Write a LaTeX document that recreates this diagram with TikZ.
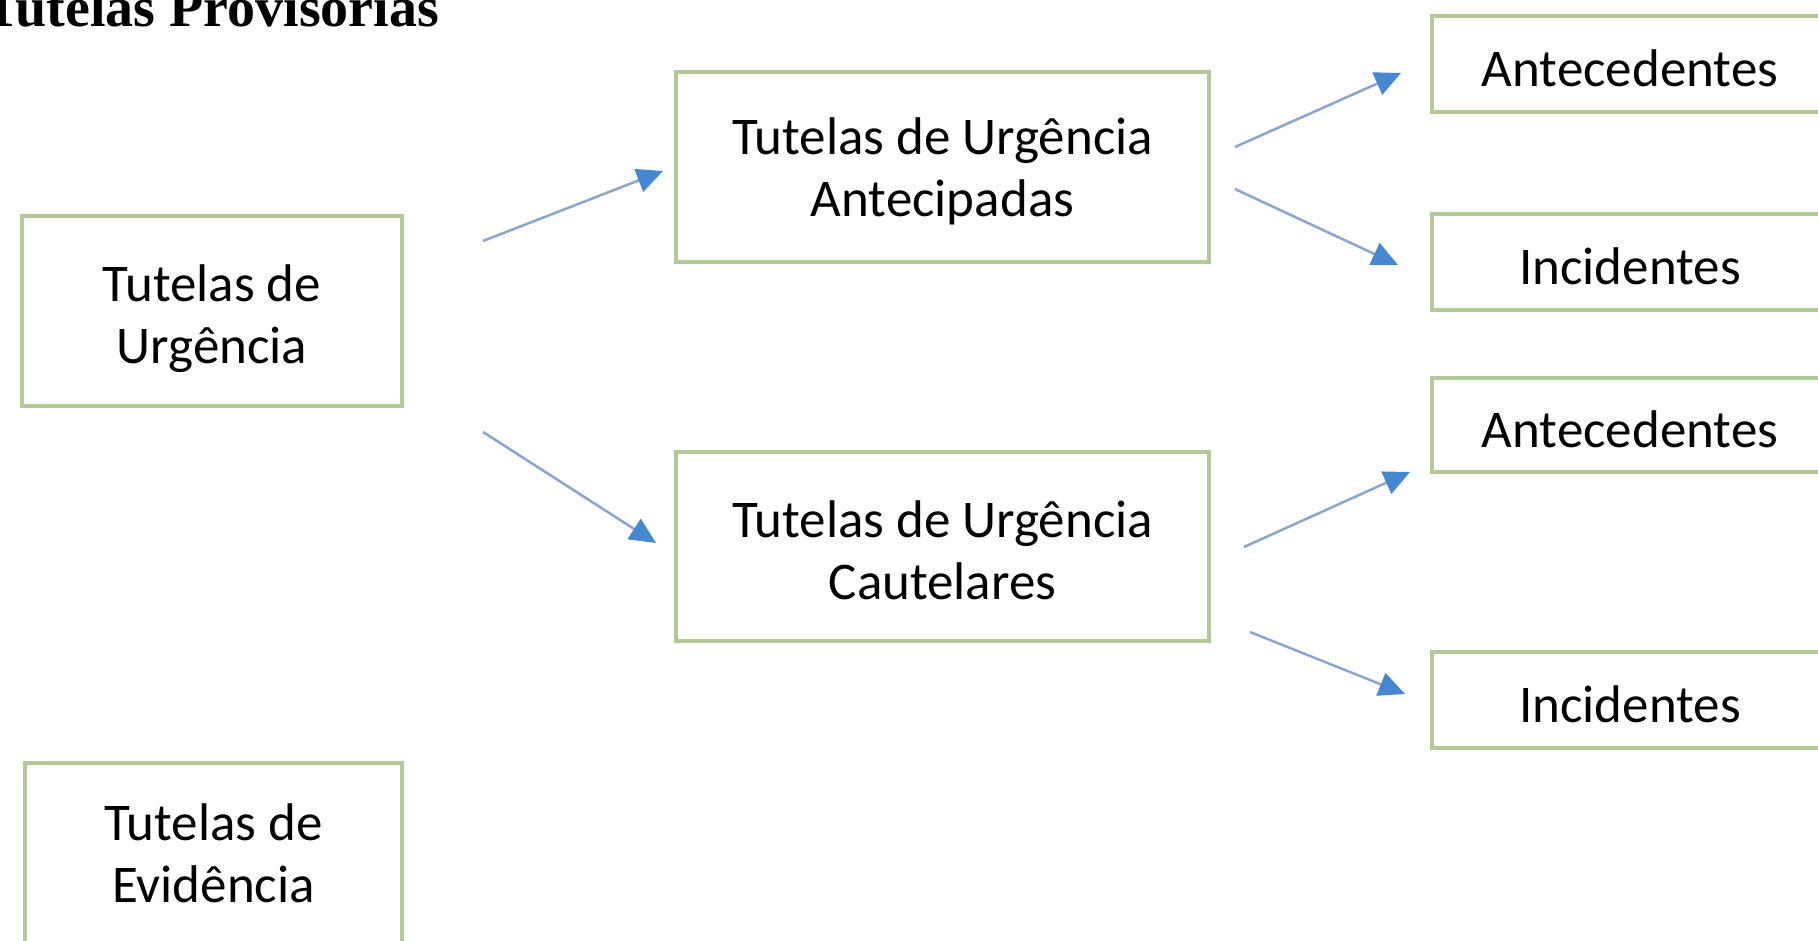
\documentclass[tikz,border=0pt]{standalone}
\usepackage{fontspec}
\setmainfont{Carlito}
\newfontfamily\titlefont{Liberation Serif}
\usetikzlibrary{arrows.meta}
\definecolor{boxgreen}{RGB}{181,200,152}
\definecolor{arrline}{RGB}{140,165,205}
\definecolor{arrhead}{RGB}{70,135,210}
\begin{document}
\begin{tikzpicture}[x=1pt,y=-1pt,
  box/.style={draw=boxgreen, line width=4pt, fill=white, inner sep=0pt},
  txt/.style={align=center, font=\fontsize{53}{62}\selectfont, inner sep=0pt},
  arr/.style={draw=arrline, line width=2.5pt,
    -{Triangle[length=26pt,width=24pt,fill=arrhead,color=arrhead]}}
]
\useasboundingbox (0,0) rectangle (1818,941);
\clip (0,0) rectangle (1818,941);
\fill[white] (0,0) rectangle (1818,941);

\node[anchor=base west, inner sep=0pt,
  font=\titlefont\bfseries\fontsize{56}{56}\selectfont] (title) at (-17,27) {Tutelas Provisórias};

\node[box, minimum width=380pt, minimum height=189pt] (tu) at (212,311) {};
\node[txt] (tut) at ([yshift=-8pt]tu.center) {Tutelas de\\Urgência};
\node[box, minimum width=377pt, minimum height=220pt] (te) at (213.5,873) {};
\node[txt] (tet) at (213.5,853) {Tutelas de\\Evidência};

\node[box, minimum width=533pt, minimum height=190pt] (tua) at (942.5,167) {};
\node[txt] (tuat) at ([yshift=-4pt]tua.center) {Tutelas de Urgência\\Antecipadas};
\node[box, minimum width=533pt, minimum height=189pt] (tuc) at (942.5,546.5) {};
\node[txt] (tuct) at ([yshift=-4pt]tuc.center) {Tutelas de Urgência\\Cautelares};

\node[box, minimum width=396pt, minimum height=96pt] (ant1) at (1630,64) {};
\node[txt] (ant1t) at ([yshift=-4pt]ant1.center) {Antecedentes};
\node[box, minimum width=396pt, minimum height=96pt] (inc1) at (1630,262) {};
\node[txt] (inc1t) at ([yshift=-4pt]inc1.center) {Incidentes};
\node[box, minimum width=396pt, minimum height=94pt] (ant2) at (1630,425) {};
\node[txt] (ant2t) at ([yshift=-4pt]ant2.center) {Antecedentes};
\node[box, minimum width=396pt, minimum height=96pt] (inc2) at (1630,700) {};
\node[txt] (inc2t) at ([yshift=-4pt]inc2.center) {Incidentes};

\coordinate (a1s) at (483,241);  \coordinate (a1e) at (663,171);
\coordinate (a2s) at (483,432);  \coordinate (a2e) at (656,543);
\coordinate (a3s) at (1235,147); \coordinate (a3e) at (1401,73);
\coordinate (a4s) at (1235,189); \coordinate (a4e) at (1398,265);
\coordinate (a5s) at (1244,547); \coordinate (a5e) at (1410,472);
\coordinate (a6s) at (1250,632); \coordinate (a6e) at (1405,694);

\draw[arr] (a1s) -- (a1e);
\draw[arr] (a2s) -- (a2e);
\draw[arr] (a3s) -- (a3e);
\draw[arr] (a4s) -- (a4e);
\draw[arr] (a5s) -- (a5e);
\draw[arr] (a6s) -- (a6e);
\end{tikzpicture}
\end{document}
